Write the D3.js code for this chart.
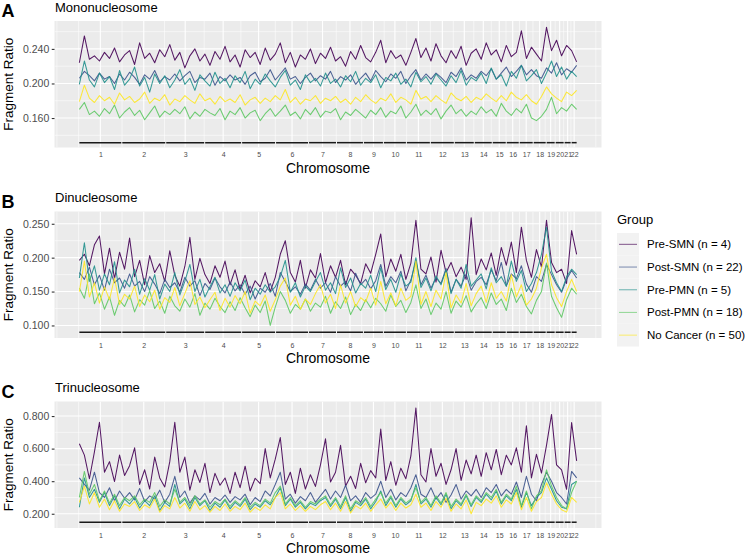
<!DOCTYPE html>
<html><head><meta charset="utf-8">
<script src="https://cdn.jsdelivr.net/npm/d3@7"></script>
<style>
body{margin:0;background:#fff}
svg text{font-family:"Liberation Sans",Arial,Helvetica,sans-serif}
</style>
</head><body>
<svg id="chart" width="747" height="556"></svg>
<script>
// ---------------- data ----------------
const chromosomes = ["1","2","3","4","5","6","7","8","9","10","11","12","13","14","15","16","17","18","19","20","21","22"];
const chromBins = [43,44,39,37,34,33,28,27,20,23,24,24,20,18,14,13,14,13,9,9,7,6];
const groups = ["Pre-SMN (n = 4)","Post-SMN (n = 22)","Pre-PMN (n = 5)","Post-PMN (n = 18)","No Cancer (n = 50)"];
const groupColors = ["#440154","#3B528B","#21908C","#5DC863","#FDE725"];
const panelLetters = ["A","B","C"];
const panelTitles = ["Mononucleosome","Dinucleosome","Trinucleosome"];
const yLabel = "Fragment Ratio";
const xLabel = "Chromosome";
const legendTitle = "Group";

const yTicksA = [0.160,0.200,0.240];
const yTicksB = [0.100,0.150,0.200,0.250];
const yTicksC = [0.200,0.400,0.600,0.800];
const yLimitsA = [0.1259,0.2723];
const yLimitsB = [0.0815,0.2681];
const yLimitsC = [0.1125,0.8894];
const chromLineA = 0.1315;
const chromLineB = 0.090;
const chromLineC = 0.148;

// Mononucleosome
const preSMN_A = [.224,.255,.228,.232,.226,.236,.229,.241,.225,.233,
.238,.222,.247,.229,.235,.224,.239,.231,.245,.227,
.236,.218,.232,.240,.226,.234,.221,.237,.228,.243,
.225,.233,.219,.239,.230,.236,.222,.241,.227,.234,
.247,.224,.236,.219,.233,.228,.240,.223,.235,.229,
.242,.226,.231,.220,.237,.228,.244,.230,.225,.236,
.250,.224,.238,.229,.233,.221,.236,.252,.230,.241,
.226,.246,.232,.224,.238,.229,.243,.221,.235,.240,
.228,.247,.233,.239,.225,.244,.231,.236,.261,.229,
.242,.234,.226,.265,.238,.250,.232,.244,.238,.225];
const postSMN_A = [.206,.214,.209,.203,.212,.205,.208,.200,.211,.204,
.213,.207,.199,.210,.205,.215,.202,.208,.204,.211,
.203,.209,.214,.201,.207,.205,.212,.198,.208,.203,
.210,.204,.207,.199,.209,.213,.202,.206,.216,.204,
.211,.218,.205,.208,.200,.207,.212,.203,.209,.205,
.214,.201,.208,.204,.210,.199,.206,.212,.203,.215,
.208,.202,.211,.206,.214,.200,.209,.216,.204,.211,
.205,.212,.207,.201,.213,.208,.218,.204,.210,.206,
.214,.209,.217,.205,.212,.219,.208,.214,.221,.210,
.216,.209,.206,.218,.212,.224,.210,.217,.213,.221];
const prePMN_A = [.199,.226,.204,.196,.212,.201,.208,.193,.215,.198,
.205,.219,.197,.207,.190,.211,.200,.209,.195,.204,
.216,.199,.206,.192,.210,.203,.197,.213,.200,.206,
.195,.209,.201,.214,.194,.205,.199,.211,.203,.196,
.207,.215,.198,.204,.193,.210,.201,.206,.197,.212,
.200,.205,.196,.209,.202,.214,.198,.206,.201,.210,
.195,.207,.203,.212,.199,.205,.196,.213,.202,.208,
.199,.211,.204,.197,.209,.201,.215,.198,.207,.203,
.212,.200,.218,.205,.210,.197,.214,.206,.221,.203,
.209,.216,.200,.212,.226,.208,.219,.205,.214,.208];
const postPMN_A = [.170,.178,.164,.168,.162,.171,.165,.175,.160,.167,
.172,.163,.169,.158,.166,.174,.161,.168,.164,.170,
.165,.173,.159,.167,.162,.170,.166,.163,.171,.158,
.168,.164,.172,.160,.166,.169,.157,.165,.171,.162,
.168,.175,.163,.167,.159,.170,.164,.172,.161,.168,
.166,.171,.158,.167,.163,.170,.165,.160,.169,.164,
.172,.161,.168,.165,.174,.160,.167,.176,.163,.169,
.164,.171,.159,.168,.175,.165,.170,.162,.168,.164,
.173,.166,.170,.162,.177,.168,.163,.171,.166,.176,
.160,.157,.162,.170,.184,.165,.172,.168,.176,.170];
const noCancer_A = [.179,.198,.183,.178,.186,.180,.184,.176,.189,.181,
.185,.178,.182,.190,.177,.183,.180,.187,.175,.182,
.179,.186,.181,.177,.188,.180,.183,.176,.185,.179,
.182,.178,.187,.175,.181,.184,.177,.183,.179,.186,
.181,.193,.178,.184,.176,.182,.180,.186,.177,.183,
.180,.185,.178,.182,.176,.184,.179,.187,.181,.177,
.183,.180,.188,.178,.184,.181,.176,.192,.182,.185,
.179,.186,.181,.177,.189,.183,.180,.185,.178,.184,
.181,.188,.183,.179,.186,.180,.190,.184,.181,.187,
.180,.176,.185,.196,.188,.183,.179,.190,.186,.192];

// Dinucleosome
const preSMN_B = [.196,.205,.188,.219,.232,.176,.214,.169,.208,.183,
.229,.172,.196,.160,.203,.178,.191,.165,.210,.174,
.158,.187,.230,.168,.199,.175,.162,.188,.171,.195,
.160,.182,.153,.174,.148,.166,.157,.178,.150,.171,
.205,.225,.178,.164,.196,.155,.182,.170,.206,.163,
.188,.171,.196,.160,.183,.174,.162,.191,.177,.205,
.235,.172,.198,.180,.205,.168,.192,.255,.183,.176,
.201,.164,.211,.178,.193,.172,.186,.168,.259,.175,
.198,.182,.207,.174,.215,.189,.223,.178,.245,.196,
.171,.212,.186,.255,.193,.178,.183,.162,.240,.205];
const postSMN_B = [.178,.168,.186,.160,.174,.152,.183,.163,.170,.155,
.176,.158,.165,.150,.172,.161,.147,.168,.156,.163,
.149,.171,.158,.166,.144,.162,.153,.170,.157,.148,
.164,.151,.160,.146,.158,.139,.155,.149,.162,.143,
.178,.165,.150,.157,.146,.161,.152,.168,.155,.163,
.149,.172,.158,.165,.151,.177,.160,.168,.154,.166,
.190,.158,.172,.163,.180,.151,.167,.195,.160,.174,
.155,.170,.162,.184,.149,.168,.158,.176,.152,.165,
.171,.160,.182,.166,.193,.158,.176,.169,.188,.161,
.149,.172,.165,.190,.175,.160,.149,.168,.181,.170];
const prePMN_B = [.170,.222,.165,.188,.152,.176,.160,.194,.148,.167,
.157,.183,.146,.169,.152,.175,.139,.161,.150,.178,
.145,.165,.190,.150,.168,.142,.157,.171,.148,.160,
.143,.163,.151,.167,.138,.155,.146,.160,.149,.157,
.172,.196,.149,.163,.142,.158,.150,.165,.178,.152,
.163,.147,.185,.156,.170,.148,.162,.155,.174,.150,
.185,.153,.168,.149,.176,.158,.164,.200,.156,.170,
.151,.173,.160,.182,.147,.168,.155,.190,.158,.167,
.176,.154,.185,.163,.172,.158,.195,.165,.181,.150,
.162,.178,.205,.245,.180,.163,.150,.172,.183,.175];
const postPMN_B = [.155,.140,.176,.132,.148,.124,.142,.115,.137,.128,
.145,.120,.138,.130,.151,.125,.136,.118,.143,.129,
.121,.139,.127,.147,.115,.133,.124,.140,.128,.119,
.135,.122,.141,.126,.113,.130,.119,.136,.100,.127,
.150,.137,.118,.131,.124,.139,.121,.133,.127,.143,
.118,.135,.125,.142,.116,.131,.122,.138,.126,.140,
.132,.121,.145,.128,.137,.119,.134,.160,.125,.139,
.116,.133,.124,.150,.118,.136,.127,.144,.120,.132,
.141,.125,.148,.131,.139,.122,.155,.134,.146,.128,
.117,.137,.150,.192,.143,.126,.112,.138,.155,.146];
const noCancer_B = [.150,.195,.142,.163,.133,.157,.138,.170,.131,.146,
.139,.158,.128,.145,.135,.152,.124,.141,.134,.156,
.129,.147,.166,.131,.142,.126,.138,.149,.122,.140,
.127,.144,.132,.150,.118,.136,.129,.145,.121,.138,
.158,.170,.130,.143,.124,.139,.131,.147,.160,.133,
.146,.125,.160,.133,.150,.128,.141,.135,.155,.130,
.165,.132,.148,.129,.155,.137,.143,.195,.131,.150,
.128,.152,.139,.178,.126,.145,.133,.162,.129,.147,
.158,.134,.163,.140,.150,.136,.175,.142,.160,.130,
.139,.155,.185,.205,.160,.141,.128,.150,.168,.150];

// Trinucleosome
const preSMN_C = [.630,.560,.415,.580,.762,.455,.520,.398,.560,.435,
.495,.605,.380,.470,.352,.548,.420,.365,.520,.762,
.455,.548,.345,.470,.392,.510,.330,.448,.375,.420,
.325,.455,.360,.492,.340,.418,.385,.600,.420,.535,
.668,.380,.455,.325,.480,.352,.440,.368,.500,.660,
.395,.455,.620,.370,.430,.355,.510,.390,.465,.420,
.720,.405,.520,.375,.480,.415,.555,.850,.440,.395,
.600,.430,.510,.380,.470,.600,.405,.530,.445,.560,
.430,.575,.470,.595,.440,.560,.500,.605,.455,.740,
.420,.565,.450,.620,.810,.500,.470,.350,.760,.525];
const postSMN_C = [.420,.380,.345,.455,.330,.300,.360,.280,.340,.295,
.330,.285,.355,.275,.310,.290,.345,.270,.320,.430,
.300,.340,.265,.310,.285,.325,.260,.300,.280,.315,
.270,.305,.285,.320,.255,.300,.275,.340,.310,.380,
.455,.290,.320,.265,.305,.280,.330,.270,.310,.350,
.290,.340,.300,.375,.280,.310,.270,.330,.295,.320,
.400,.300,.350,.285,.330,.305,.360,.440,.320,.300,
.360,.290,.330,.270,.315,.380,.290,.340,.310,.350,
.300,.360,.330,.380,.310,.350,.320,.395,.300,.430,
.320,.280,.380,.455,.400,.330,.300,.260,.460,.420];
const prePMN_C = [.240,.420,.300,.350,.270,.330,.250,.310,.230,.290,
.260,.300,.235,.280,.250,.310,.220,.270,.245,.380,
.260,.290,.230,.300,.250,.280,.220,.265,.240,.285,
.230,.270,.245,.290,.225,.260,.240,.280,.255,.300,
.360,.250,.290,.240,.270,.230,.265,.250,.280,.300,
.245,.290,.230,.300,.215,.270,.250,.290,.230,.275,
.340,.250,.300,.240,.290,.255,.280,.380,.260,.290,
.240,.300,.255,.320,.230,.280,.250,.310,.245,.300,
.270,.320,.285,.340,.260,.310,.280,.350,.240,.330,
.250,.300,.330,.420,.350,.280,.240,.230,.380,.400];
const postPMN_C = [.300,.460,.320,.380,.280,.340,.265,.320,.250,.300,
.280,.310,.255,.290,.270,.330,.245,.285,.260,.350,
.270,.300,.250,.310,.260,.285,.240,.275,.255,.290,
.245,.280,.255,.300,.240,.270,.250,.290,.265,.330,
.370,.260,.300,.250,.280,.240,.275,.260,.290,.310,
.255,.300,.245,.310,.230,.280,.260,.300,.245,.290,
.330,.265,.310,.250,.300,.265,.290,.360,.270,.300,
.250,.310,.265,.330,.245,.290,.260,.320,.255,.310,
.280,.330,.300,.350,.270,.320,.290,.370,.250,.340,
.230,.310,.340,.470,.370,.300,.250,.230,.330,.400];
const noCancer_C = [.270,.370,.260,.330,.240,.290,.225,.280,.215,.260,
.245,.275,.220,.255,.235,.290,.210,.250,.230,.300,
.235,.265,.215,.275,.225,.250,.210,.245,.220,.260,
.215,.245,.225,.265,.210,.240,.220,.255,.230,.300,
.330,.230,.260,.220,.250,.215,.245,.225,.255,.275,
.225,.265,.215,.275,.205,.250,.230,.265,.215,.255,
.290,.235,.270,.220,.265,.235,.255,.320,.240,.265,
.220,.275,.240,.295,.215,.260,.230,.285,.200,.270,
.250,.290,.265,.310,.240,.285,.260,.330,.225,.300,
.215,.275,.300,.390,.320,.260,.225,.210,.300,.270];

// ---------------- layout ----------------
const svg = d3.select("#chart");
const panelLeft = 54.5, panelRight = 601.5, panelH = 126.5;
const panelTops = [21, 211.5, 401.5];
const textColor = "#4D4D4D";

const totalBins = d3.sum(chromBins);
const chromStarts = chromBins.map((n,i)=>d3.sum(chromBins.slice(0,i)));
const chromCenters = chromStarts.map((s,i)=> s + (chromBins[i]-1)/2);
const dataMax = totalBins - 1;
const expand = dataMax * 0.05;
const x = d3.scaleLinear().domain([-expand, dataMax + expand]).range([panelLeft, panelRight]);

function minorBreaks(b, lim){
  const bd = b[1]-b[0];
  let bb = b.slice();
  if (lim[0] < bb[0]) bb.unshift(bb[0]-bd);
  if (lim[1] > bb[bb.length-1]) bb.push(bb[bb.length-1]+bd);
  const out = [];
  for (let i=0;i<bb.length-1;i++) out.push((bb[i]+bb[i+1])/2);
  return out.filter(v=>v>=lim[0] && v<=lim[1]);
}
const xMinorAll = (function(){
  const b = chromCenters.slice();
  const bd = b[1]-b[0];
  const lim = x.domain();
  if (lim[0] < b[0]) b.unshift(b[0]-bd);
  if (lim[1] > b[b.length-1]) b.push(b[b.length-1]+bd);
  const out=[];
  for (let i=0;i<b.length-1;i++){ out.push(b[i]); out.push((b[i]+b[i+1])/2); }
  out.push(b[b.length-1]);
  return out.filter(v=>v>=lim[0]&&v<=lim[1] && !chromCenters.includes(v));
})();

const panels = [
  {ticks:yTicksA, lim:yLimitsA, chromY:chromLineA, series:[preSMN_A,postSMN_A,prePMN_A,postPMN_A,noCancer_A]},
  {ticks:yTicksB, lim:yLimitsB, chromY:chromLineB, series:[preSMN_B,postSMN_B,prePMN_B,postPMN_B,noCancer_B]},
  {ticks:yTicksC, lim:yLimitsC, chromY:chromLineC, series:[preSMN_C,postSMN_C,prePMN_C,postPMN_C,noCancer_C]}
];

panels.forEach((p, pi) => {
  const top = panelTops[pi], bottom = top + panelH;
  const y = d3.scaleLinear().domain(p.lim).range([bottom, top]);
  const g = svg.append("g");
  const clipId = "clip"+pi;
  svg.append("clipPath").attr("id",clipId).append("rect")
    .attr("x",panelLeft).attr("y",top).attr("width",panelRight-panelLeft).attr("height",panelH);

  g.append("rect").attr("x",panelLeft).attr("y",top).attr("width",panelRight-panelLeft).attr("height",panelH).attr("fill","#EBEBEB");

  const grid = g.append("g").attr("clip-path",`url(#${clipId})`);
  const yMinor = minorBreaks(p.ticks, p.lim);
  grid.selectAll(".ymin").data(yMinor).join("line")
    .attr("x1",panelLeft).attr("x2",panelRight).attr("y1",d=>y(d)).attr("y2",d=>y(d))
    .attr("stroke","#fff").attr("stroke-width",0.55);
  grid.selectAll(".xmin").data(xMinorAll).join("line")
    .attr("x1",d=>x(d)).attr("x2",d=>x(d)).attr("y1",top).attr("y2",bottom)
    .attr("stroke","#fff").attr("stroke-width",0.55);
  grid.selectAll(".ymaj").data(p.ticks).join("line")
    .attr("x1",panelLeft).attr("x2",panelRight).attr("y1",d=>y(d)).attr("y2",d=>y(d))
    .attr("stroke","#fff").attr("stroke-width",1.1);
  grid.selectAll(".xmaj").data(chromCenters).join("line")
    .attr("x1",d=>x(d)).attr("x2",d=>x(d)).attr("y1",top).attr("y2",bottom)
    .attr("stroke","#fff").attr("stroke-width",1.1);

  // chromosome segments
  g.selectAll(".seg").data(chromStarts).join("line")
    .attr("x1",(s)=>x(s)).attr("x2",(s,i)=>x(s+chromBins[i]-1))
    .attr("y1",y(p.chromY)).attr("y2",y(p.chromY))
    .attr("stroke","#1a1a1a").attr("stroke-width",1.5);

  // lines
  const lines = g.append("g").attr("clip-path",`url(#${clipId})`);
  p.series.forEach((vals, si) => {
    const n = vals.length;
    const line = d3.line().x((d,i)=>x(i*dataMax/(n-1))).y(d=>y(d));
    lines.append("path").datum(vals).attr("d",line)
      .attr("fill","none").attr("stroke",groupColors[si]).attr("stroke-opacity",0.9)
      .attr("stroke-width",1.05).attr("stroke-linejoin","round");
  });

  // y axis
  const yAxis = d3.axisLeft(y).tickValues(p.ticks).tickFormat(d3.format(".3f")).tickSize(2.75).tickPadding(2.5);
  const ya = svg.append("g").attr("transform",`translate(${panelLeft},0)`).call(yAxis);
  ya.select(".domain").remove();
  ya.selectAll("line").attr("stroke","#333").attr("stroke-width",1.1);
  ya.selectAll("text").attr("fill",textColor).style("font-size","10.5px");

  // x axis labels
  const xAxis = d3.axisBottom(x).tickValues(chromCenters).tickFormat((d,i)=>chromosomes[i]).tickSize(0).tickPadding(5);
  const xa = svg.append("g").attr("transform",`translate(0,${bottom})`).call(xAxis);
  xa.select(".domain").remove();
  xa.selectAll("text").attr("fill",textColor).style("font-size","7px");

  // titles
  svg.append("text").attr("x",55).attr("y",top-9.5).text(panelTitles[pi]).style("font-size","13px").attr("fill","#000");
  svg.append("text").attr("x",1.5).attr("y",top-4).text(panelLetters[pi]).style("font-size","18px").style("font-weight","bold").attr("fill","#000");
  svg.append("text").attr("x",(panelLeft+panelRight)/2).attr("y",bottom+25).attr("text-anchor","middle")
    .text(xLabel).style("font-size","14px").attr("fill","#000");
  svg.append("text").attr("transform",`translate(12.5,${top+panelH/2}) rotate(-90)`).attr("text-anchor","middle")
    .text(yLabel).style("font-size","13.5px").attr("fill","#000");
});

// legend
const lg = svg.append("g");
lg.append("text").attr("x",617).attr("y",224).text(legendTitle).style("font-size","13px").attr("fill","#000");
const keyTop = 233, keyH = 22.7;
groups.forEach((gname, i) => {
  const cy = keyTop + keyH*i + keyH/2;
  lg.append("rect").attr("x",617).attr("y",keyTop+keyH*i).attr("width",22).attr("height",keyH).attr("fill","#F2F2F2");
  lg.append("line").attr("x1",619).attr("x2",637).attr("y1",cy).attr("y2",cy)
    .attr("stroke",groupColors[i]).attr("stroke-opacity",0.6).attr("stroke-width",1.1);
  lg.append("text").attr("x",647).attr("y",cy+4).text(gname).style("font-size","11.5px").attr("fill","#000");
});
</script>
</body></html>
